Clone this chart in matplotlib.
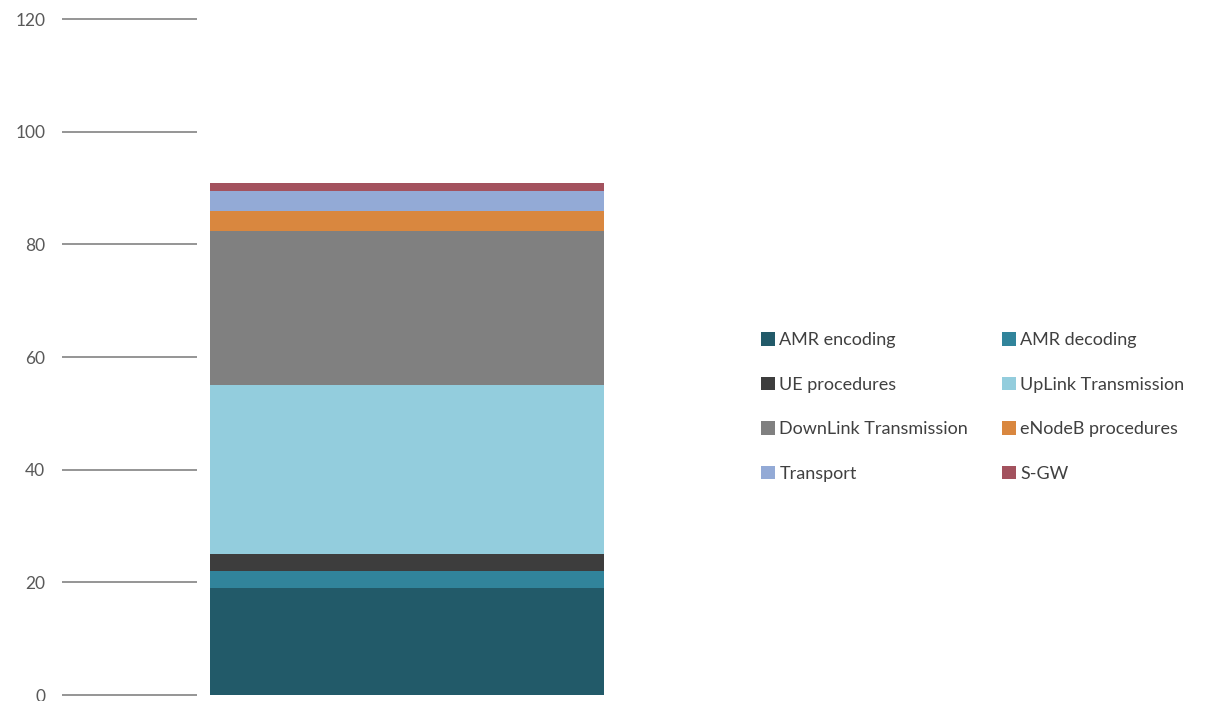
import matplotlib
matplotlib.use('Agg')
from matplotlib import pyplot as plt

plt.rcParams['font.family'] = ['Lato', 'DejaVu Sans']

# stacked segment values (bottom to top)
segments = ['AMR encoding', 'AMR decoding', 'UE procedures', 'UpLink Transmission',
            'DownLink Transmission', 'eNodeB procedures', 'Transport', 'S-GW']
values = [19, 3, 3, 30, 27.4, 3.6, 3.5, 1.4]
colors = ['#225A69', '#31849B', '#3D3D3D', '#93CDDD',
          '#808080', '#D9873F', '#93AAD6', '#A3525E']
yticks = [0, 20, 40, 60, 80, 100, 120]

fig = plt.figure(figsize=(12.22, 7.01), dpi=100)
W, H = 1222, 701
ax = fig.add_axes([197 / W, 1 - 695 / H, (620 - 197) / W, (695 - 19) / H])

bars = []
bottom = 0
for name, v, c in zip(segments, values, colors):
    b = ax.bar(0, v, width=1.0, bottom=bottom, color=c, label=name)
    bars.append(b)
    bottom += v

# bar spans px 210..604 inside axes 197..620
ax.set_xlim(-0.5 - 13 / 394, 0.5 + 16 / 394)
ax.set_ylim(0, 120)
ax.set_yticks(yticks)
ax.set_xticks([])
for s in ax.spines.values():
    s.set_visible(False)
ax.tick_params(axis='y', length=135 * 0.72, width=1.3, color='#8C8C8C',
               pad=12, labelsize=12.5, labelcolor='#595959')

# legend filled row by row like the original
order = [0, 2, 4, 6, 1, 3, 5, 7]
fig.legend([bars[i] for i in order], [segments[i] for i in order],
           ncol=2, loc='upper left', bbox_to_anchor=(745 / W, 1 - 316 / H),
           frameon=False, fontsize=13, handlelength=0.75, handleheight=0.75,
           handletextpad=0.25, columnspacing=1.9, labelspacing=1.58,
           labelcolor='#404040')

fig.savefig('out.png', dpi=100)
